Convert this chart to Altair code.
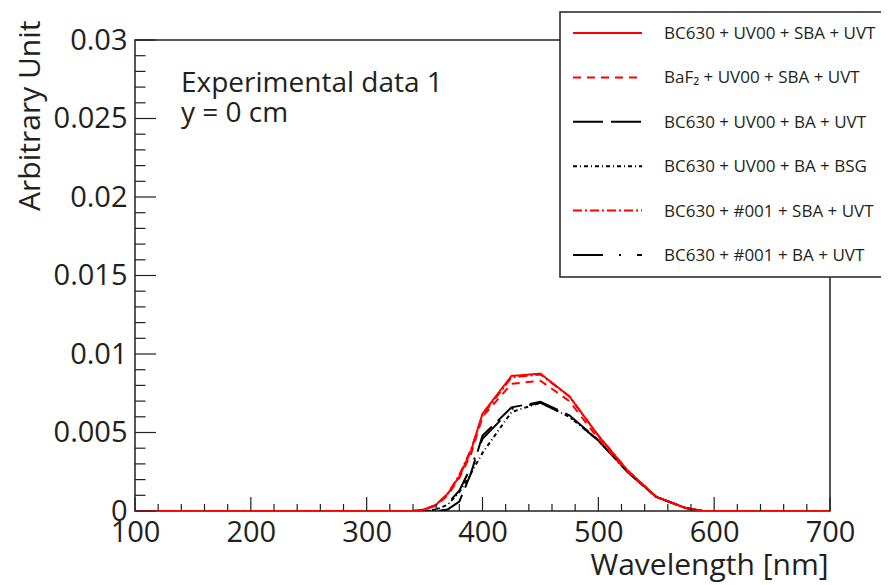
import altair as alt
import pandas as pd

# ---------------- data ----------------
wavelengths = [100, 200, 300, 340, 350, 360, 370, 380, 390, 400,
               425, 450, 475, 500, 525, 550, 575, 590, 600, 700]

series_names = [
    "BC630 + UV00 + SBA + UVT",
    "BaF₂ + UV00 + SBA + UVT",
    "BC630 + UV00 + BA + UVT",
    "BC630 + UV00 + BA + BSG",
    "BC630 + #001 + SBA + UVT",
    "BC630 + #001 + BA + UVT",
]

s_bc630_uv00_sba_uvt = [0, 0, 0, 0, 0.0001, 0.0004, 0.0011, 0.0022, 0.0038, 0.0062,
                        0.0086, 0.00875, 0.0073, 0.0048, 0.0026, 0.0009, 0.0002, 0, 0, 0]
s_baf2_uv00_sba_uvt = [0, 0, 0, 0, 0.0001, 0.00035, 0.0010, 0.0021, 0.0036, 0.0060,
                       0.0081, 0.0083, 0.0070, 0.0046, 0.0025, 0.0009, 0.0002, 0, 0, 0]
s_bc630_uv00_ba_uvt = [0, 0, 0, 0, 0, 0, 0.0001, 0.0006, 0.0024, 0.0048,
                       0.0066, 0.00695, 0.0061, 0.0045, 0.0025, 0.0009, 0.0002, 0, 0, 0]
s_bc630_uv00_ba_bsg = [0, 0, 0, 0, 0, 0.0001, 0.0004, 0.0012, 0.0024, 0.0037,
                       0.0063, 0.0069, 0.0060, 0.0045, 0.0025, 0.0009, 0.0002, 0, 0, 0]
s_bc630_001_sba_uvt = [0, 0, 0, 0, 0.0001, 0.0004, 0.0011, 0.0023, 0.0039, 0.0061,
                       0.0085, 0.0087, 0.0073, 0.0048, 0.0026, 0.0009, 0.0002, 0, 0, 0]
s_bc630_001_ba_uvt = [0, 0, 0, 0, 0, 0.0001, 0.0005, 0.0013, 0.0028, 0.0046,
                      0.0065, 0.0069, 0.0060, 0.0045, 0.0025, 0.0009, 0.0002, 0, 0, 0]

series_values = [s_bc630_uv00_sba_uvt, s_baf2_uv00_sba_uvt, s_bc630_uv00_ba_uvt,
                 s_bc630_uv00_ba_bsg, s_bc630_001_sba_uvt, s_bc630_001_ba_uvt]

x_major = [100, 200, 300, 400, 500, 600, 700]
x_minor = [120, 140, 160, 180, 220, 240, 260, 280, 320, 340, 360, 380,
           420, 440, 460, 480, 520, 540, 560, 580, 620, 640, 660, 680]
y_major = [0, 0.005, 0.01, 0.015, 0.02, 0.025, 0.03]
y_minor = [0.001, 0.002, 0.003, 0.004, 0.006, 0.007, 0.008, 0.009,
           0.011, 0.012, 0.013, 0.014, 0.016, 0.017, 0.018, 0.019,
           0.021, 0.022, 0.023, 0.024, 0.026, 0.027, 0.028, 0.029]

# ---------------- styles ----------------
colors = ["#ff0000", "#ff0000", "#000000", "#000000", "#ff0000", "#000000"]
dashes = [[1, 0], [8, 6], [30, 8], [4, 3, 1, 3], [9, 3, 2, 3], [30, 16, 2, 16]]

W, H = 695, 471
FONT = "Open Sans"
TXT = "#231f20"

rows = []
for name, vals in reversed(list(zip(series_names, series_values))):
    for wl, v in zip(wavelengths, vals):
        rows.append({"series": name, "wl": wl, "val": v})
df = pd.DataFrame(rows)

xscale = alt.Scale(domain=[100, 700], nice=False, zero=False)
yscale = alt.Scale(domain=[0, 0.03], nice=False)

xaxis = alt.Axis(values=x_major, format="d", domain=False, ticks=False, tickSize=0,
                 grid=False, labelFont=FONT, labelFontSize=29, labelColor=TXT,
                 labelPadding=7, labelFlush=False,
                 title="Wavelength [nm]", titleFont=FONT, titleFontSize=30,
                 titleFontWeight="normal", titleColor=TXT, titleAlign="right",
                 titleBaseline="alphabetic", titleX=693, titleY=63)
yaxis = alt.Axis(values=y_major, format="~g", domain=False, ticks=False, tickSize=0,
                 grid=False, labelFont=FONT, labelFontSize=29, labelColor=TXT,
                 labelPadding=8, labelFlush=False,
                 title="Arbitrary Unit", titleFont=FONT, titleFontSize=30,
                 titleFontWeight="normal", titleColor=TXT, titleAlign="right",
                 titleBaseline="alphabetic", titleAngle=270, titleX=-96, titleY=-20)

lines = alt.Chart(df).mark_line(strokeWidth=2, clip=True).encode(
    x=alt.X("wl:Q", scale=xscale, axis=xaxis),
    y=alt.Y("val:Q", scale=yscale, axis=yaxis),
    color=alt.Color("series:N", scale=alt.Scale(domain=series_names, range=colors), legend=None),
    strokeDash=alt.StrokeDash("series:N", scale=alt.Scale(domain=series_names, range=dashes), legend=None),
)

tick_col = "#231f20"
xt_major = alt.Chart(pd.DataFrame({"t": x_major})).mark_rule(color=tick_col, strokeWidth=1.2).encode(
    x=alt.X("t:Q", scale=xscale), y=alt.value(H), y2=alt.value(H - 14))
xt_minor = alt.Chart(pd.DataFrame({"t": x_minor})).mark_rule(color=tick_col, strokeWidth=1.2).encode(
    x=alt.X("t:Q", scale=xscale), y=alt.value(H), y2=alt.value(H - 7))
yt_major = alt.Chart(pd.DataFrame({"t": y_major})).mark_rule(color=tick_col, strokeWidth=1.2).encode(
    y=alt.Y("t:Q", scale=yscale), x=alt.value(0), x2=alt.value(21))
yt_minor = alt.Chart(pd.DataFrame({"t": y_minor})).mark_rule(color=tick_col, strokeWidth=1.2).encode(
    y=alt.Y("t:Q", scale=yscale), x=alt.value(0), x2=alt.value(10.5))

annot1 = alt.Chart(pd.DataFrame({"a": [0]})).mark_text(
    text="Experimental data 1", font=FONT, fontSize=28, color=TXT, align="left", baseline="alphabetic"
).encode(x=alt.value(46), y=alt.value(52))
annot2 = alt.Chart(pd.DataFrame({"a": [0]})).mark_text(
    text="y = 0 cm", font=FONT, fontSize=28, color=TXT, align="left", baseline="alphabetic"
).encode(x=alt.value(46), y=alt.value(82))

# legend box
leg_left = 425
legbox = alt.Chart(pd.DataFrame({"a": [0]})).mark_rect(
    fill="white", stroke="#231f20", strokeWidth=1.5
).encode(x=alt.value(leg_left), x2=alt.value(800), y=alt.value(-28), y2=alt.value(237))

legend_layers = []
for i, name in enumerate(series_names):
    yy = -7 + i * 44.4
    legend_layers.append(
        alt.Chart(pd.DataFrame({"a": [0]})).mark_rule(
            color=colors[i], strokeDash=dashes[i], strokeWidth=2
        ).encode(x=alt.value(leg_left + 13), x2=alt.value(leg_left + 82), y=alt.value(yy))
    )
    legend_layers.append(
        alt.Chart(pd.DataFrame({"a": [0]})).mark_text(
            text=name, font=FONT, fontSize=17, color=TXT, align="left", baseline="middle"
        ).encode(x=alt.value(leg_left + 104), y=alt.value(yy + 1))
    )

chart = alt.layer(lines, xt_major, xt_minor, yt_major, yt_minor, annot1, annot2,
                  legbox, *legend_layers).properties(
    width=W, height=H,
    background="white",
    autosize=alt.AutoSizeParams(type="none"),
    padding={"left": 127, "top": 32, "right": 51, "bottom": 72},
).configure_view(stroke="#231f20", strokeWidth=1.5)

chart.save("out.html", embed_options={"renderer": "svg", "actions": False})
